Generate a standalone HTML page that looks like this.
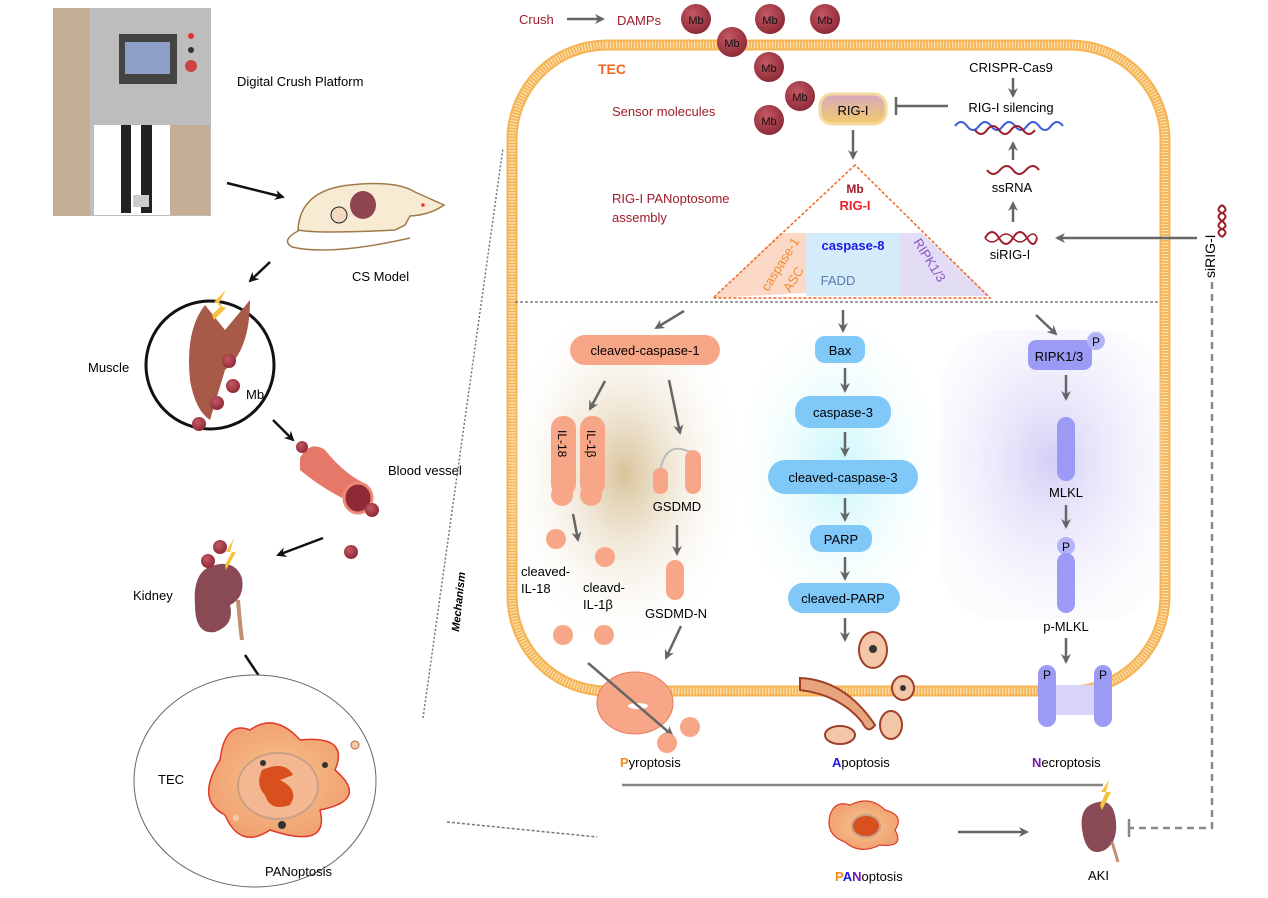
<!DOCTYPE html>
<html><head><meta charset="utf-8"><style>
html,body{margin:0;padding:0;background:#fff;}
svg{display:block;font-family:"Liberation Sans",Arial,sans-serif;}
</style></head><body>
<svg width="1268" height="898" viewBox="0 0 1268 898" xmlns="http://www.w3.org/2000/svg">
<defs>
<marker id="ag" viewBox="0 0 10 10" refX="8" refY="5" markerWidth="4" markerHeight="4" orient="auto"><path d="M0,0 L10,5 L0,10 L3,5z" fill="#666"/></marker>
<marker id="ab" viewBox="0 0 10 10" refX="8" refY="5" markerWidth="4" markerHeight="4" orient="auto"><path d="M0,0 L10,5 L0,10 L3,5z" fill="#111"/></marker>
<radialGradient id="mb" cx="40%" cy="35%" r="65%"><stop offset="0" stop-color="#c45a66"/><stop offset="1" stop-color="#8e2a36"/></radialGradient>
<radialGradient id="gPy" cx="50%" cy="45%" r="55%"><stop offset="0" stop-color="#d9c39a"/><stop offset="1" stop-color="#fff" stop-opacity="0"/></radialGradient>
<radialGradient id="gAp" cx="50%" cy="45%" r="55%"><stop offset="0" stop-color="#c8f6fb"/><stop offset="1" stop-color="#fff" stop-opacity="0"/></radialGradient>
<radialGradient id="gNe" cx="50%" cy="45%" r="55%"><stop offset="0" stop-color="#d4cff6"/><stop offset="1" stop-color="#efedfb" stop-opacity="0.2"/></radialGradient>
<linearGradient id="rig" x1="0" y1="0" x2="0" y2="1"><stop offset="0" stop-color="#d6a8c0"/><stop offset="1" stop-color="#f2cc6a"/></linearGradient>
<radialGradient id="cell" cx="50%" cy="50%" r="55%"><stop offset="0" stop-color="#f7c48c"/><stop offset="1" stop-color="#f0a070"/></radialGradient>
</defs>

<!-- ===== LEFT PANEL ===== -->
<rect x="53" y="8" width="158" height="208" fill="#bdbdbd"/>
<rect x="53" y="8" width="37" height="208" fill="#c4ae96"/>
<rect x="94" y="125" width="76" height="90" fill="#fff"/>
<rect x="170" y="125" width="40" height="90" fill="#c4ae96"/>
<rect x="121" y="125" width="10" height="88" fill="#222"/>
<rect x="141" y="125" width="11" height="88" fill="#222"/>
<rect x="133" y="195" width="16" height="12" fill="#ccc"/>
<rect x="119" y="34" width="58" height="50" fill="#444"/>
<rect x="125" y="42" width="45" height="32" fill="#8fa0c8"/>
<circle cx="191" cy="36" r="3" fill="#d33"/><circle cx="191" cy="50" r="3" fill="#333"/><circle cx="191" cy="66" r="6" fill="#c44"/>
<text x="237" y="86" font-size="13">Digital Crush Platform</text>
<line x1="227" y1="183" x2="283" y2="197" stroke="#111" stroke-width="2.5" marker-end="url(#ab)"/>
<!-- mouse -->
<path d="M298,230 Q300,190 350,185 Q395,180 415,192 L444,205 Q430,215 410,216 L405,225 L395,230 Q360,232 330,232 Q310,232 298,230z" fill="#f7ebd4" stroke="#a07a48" stroke-width="1.5"/>
<path d="M300,230 Q280,240 292,247 Q330,256 410,238" fill="none" stroke="#a07a48" stroke-width="1.5"/>
<ellipse cx="363" cy="205" rx="13" ry="14" fill="#8e4550"/>
<circle cx="339" cy="215" r="8" fill="#f2d9c2" stroke="#222" stroke-width="1"/>
<circle cx="423" cy="205" r="1.8" fill="#e33"/>
<text x="352" y="281" font-size="13">CS Model</text>
<line x1="270" y1="262" x2="250" y2="281" stroke="#111" stroke-width="2.5" marker-end="url(#ab)"/>
<!-- muscle circle -->
<circle cx="210" cy="365" r="64" fill="#fff" stroke="#111" stroke-width="3"/>
<path d="M190,380 Q185,330 205,305 L225,330 L250,300 Q250,350 225,370 L210,420 Q195,410 190,380z" fill="#a85a48"/>
<path d="M212,315 L222,305 L214,302 L226,290 L218,305 L226,308 L214,320z" fill="#f6c23a"/>
<circle cx="233" cy="386" r="7" fill="url(#mb)"/><circle cx="229" cy="361" r="7" fill="url(#mb)"/><circle cx="217" cy="403" r="7" fill="url(#mb)"/><circle cx="199" cy="424" r="7" fill="url(#mb)"/>
<text x="88" y="372" font-size="13">Muscle</text>
<text x="246" y="399" font-size="13">Mb</text>
<line x1="273" y1="420" x2="293" y2="440" stroke="#111" stroke-width="2.5" marker-end="url(#ab)"/>
<!-- blood vessel -->
<path d="M300,458 Q310,440 325,450 Q345,475 368,485 L365,508 Q330,495 300,470z" fill="#e6786a"/>
<ellipse cx="358" cy="498" rx="14" ry="15" fill="#8e2a36" stroke="#f08878" stroke-width="3"/>
<circle cx="302" cy="447" r="6" fill="url(#mb)"/><circle cx="372" cy="510" r="7" fill="url(#mb)"/><circle cx="351" cy="552" r="7" fill="url(#mb)"/>
<text x="388" y="475" font-size="13">Blood vessel</text>
<line x1="323" y1="538" x2="278" y2="555" stroke="#111" stroke-width="2.5" marker-end="url(#ab)"/>
<!-- kidney -->
<path d="M215,565 Q235,560 242,578 Q245,598 230,605 Q235,625 215,632 Q195,635 195,605 Q192,570 215,565z" fill="#8a4a55"/>
<path d="M238,600 Q240,625 242,640" stroke="#c09070" stroke-width="4" fill="none"/>
<circle cx="220" cy="547" r="7" fill="url(#mb)"/><circle cx="208" cy="561" r="7" fill="url(#mb)"/>
<path d="M225,565 L232,552 L226,552 L234,538 L230,552 L236,552 L226,570z" fill="#f6c23a"/>
<text x="133" y="600" font-size="13">Kidney</text>
<line x1="245" y1="655" x2="265" y2="685" stroke="#111" stroke-width="2.5" marker-end="url(#ab)"/>
<!-- TEC ellipse -->
<ellipse cx="255" cy="781" rx="121" ry="106" fill="#fff" stroke="#666" stroke-width="1"/>
<path d="M220,760 Q225,720 250,730 Q275,712 300,740 Q350,735 335,770 Q370,800 320,810 Q330,850 270,830 Q240,850 225,815 Q195,800 220,760z" fill="url(#cell)" stroke="#e03a2a" stroke-width="1.5"/>
<ellipse cx="278" cy="786" rx="40" ry="33" fill="#f3b892" stroke="#c8a088" stroke-width="2"/>
<path d="M262,770 Q285,760 293,775 L280,780 Q300,790 290,805 Q270,812 265,795 Q255,785 262,770z" fill="#d8501e"/>
<circle cx="263" cy="763" r="3" fill="#333"/><circle cx="325" cy="765" r="3" fill="#333"/><circle cx="282" cy="825" r="4" fill="#333"/>
<circle cx="355" cy="745" r="4" fill="#f3cba8" stroke="#c06040"/><circle cx="236" cy="818" r="3" fill="#f3cba8"/>
<text x="158" y="784" font-size="13">TEC</text>
<text x="265" y="876" font-size="13">PANoptosis</text>
<line x1="423" y1="718" x2="503" y2="148" stroke="#777" stroke-width="1.5" stroke-dasharray="2,2"/>
<line x1="447" y1="822" x2="597" y2="837" stroke="#777" stroke-width="1.5" stroke-dasharray="3,2"/>
<text x="0" y="0" font-size="11" font-weight="bold" font-style="italic" transform="translate(459,632) rotate(-84)">Mechanism</text>

<!-- ===== CELL ===== -->
<rect x="512" y="45" width="653" height="646" rx="95" fill="none" stroke="#f6b454" stroke-width="11"/>
<rect x="512" y="45" width="653" height="646" rx="95" fill="none" stroke="#fbe3b8" stroke-width="7" stroke-dasharray="1.2,1.8"/>

<rect x="512" y="325" width="225" height="330" fill="url(#gPy)"/>
<rect x="732" y="325" width="215" height="320" fill="url(#gAp)"/>
<rect x="940" y="330" width="222" height="290" rx="60" fill="url(#gNe)"/>

<text x="519" y="24" font-size="13" fill="#9e1c2a">Crush</text>
<line x1="567" y1="19" x2="603" y2="19" stroke="#666" stroke-width="2.5" marker-end="url(#ag)"/>
<text x="617" y="25" font-size="13" fill="#9e1c2a">DAMPs</text>
<g font-size="11" text-anchor="middle" fill="#111">
<circle cx="696" cy="19" r="15" fill="url(#mb)"/><text x="696" y="24">Mb</text>
<circle cx="770" cy="19" r="15" fill="url(#mb)"/><text x="770" y="24">Mb</text>
<circle cx="825" cy="19" r="15" fill="url(#mb)"/><text x="825" y="24">Mb</text>
<circle cx="732" cy="42" r="15" fill="url(#mb)"/><text x="732" y="47">Mb</text>
<circle cx="769" cy="67" r="15" fill="url(#mb)"/><text x="769" y="72">Mb</text>
<circle cx="800" cy="96" r="15" fill="url(#mb)"/><text x="800" y="101">Mb</text>
<circle cx="769" cy="120" r="15" fill="url(#mb)"/><text x="769" y="125">Mb</text>
</g>
<text x="598" y="74" font-size="14" font-weight="bold" fill="#f26522">TEC</text>
<text x="612" y="116" font-size="13" fill="#9e1c2a">Sensor molecules</text>
<rect x="820" y="94" width="66" height="30" rx="12" fill="url(#rig)" stroke="#f7d9a0" stroke-width="3"/>
<text x="853" y="115" font-size="13" text-anchor="middle">RIG-I</text>
<line x1="948" y1="106" x2="897" y2="106" stroke="#666" stroke-width="2.5"/>
<line x1="896" y1="97" x2="896" y2="115" stroke="#666" stroke-width="2.5"/>
<line x1="853" y1="130" x2="853" y2="158" stroke="#666" stroke-width="2.5" marker-end="url(#ag)"/>

<text x="1011" y="72" font-size="13" text-anchor="middle">CRISPR-Cas9</text>
<line x1="1013" y1="78" x2="1013" y2="96" stroke="#666" stroke-width="2.5" marker-end="url(#ag)"/>
<text x="1011" y="112" font-size="13" text-anchor="middle">RIG-I silencing</text>
<path d="M955,126 q6,-8 12,0 t12,0 t12,0 t12,0 t12,0 t12,0 t12,0 t12,0 t12,0" fill="none" stroke="#3a5bd9" stroke-width="2"/>
<path d="M975,130 q6,8 12,0 t12,0 t12,0 t12,0 t12,0" fill="none" stroke="#9e1c2a" stroke-width="2"/>
<line x1="1013" y1="160" x2="1013" y2="143" stroke="#666" stroke-width="2.5" marker-end="url(#ag)"/>
<path d="M987,170 q6,8 13,0 t13,0 t13,0 t13,0" fill="none" stroke="#9e1c2a" stroke-width="2"/>
<text x="1012" y="192" font-size="13" text-anchor="middle">ssRNA</text>
<line x1="1013" y1="222" x2="1013" y2="203" stroke="#666" stroke-width="2.5" marker-end="url(#ag)"/>
<path d="M985,238 q7,-12 14,0 t14,0 t14,0 t10,0" fill="none" stroke="#9e1c2a" stroke-width="2"/>
<path d="M985,238 q7,8 14,0 t14,0 t14,0 t10,0" fill="none" stroke="#9e1c2a" stroke-width="1.5"/>
<text x="1010" y="259" font-size="13" text-anchor="middle">siRIG-I</text>
<line x1="1197" y1="238" x2="1057" y2="238" stroke="#666" stroke-width="2.5" marker-end="url(#ag)"/>
<text x="0" y="0" font-size="14" transform="translate(1215,278) rotate(-90)">siRIG-I</text>
<path d="M1222,205 q-7,5 0,8 t0,8 t0,8 t0,8" fill="none" stroke="#9e1c2a" stroke-width="2"/>
<path d="M1222,205 q7,5 0,8 t0,8 t0,8 t0,8" fill="none" stroke="#9e1c2a" stroke-width="2"/>
<path d="M1212,282 L1212,828 L1130,828" fill="none" stroke="#888" stroke-width="2.5" stroke-dasharray="7,5"/>
<line x1="1129" y1="819" x2="1129" y2="837" stroke="#888" stroke-width="2.5"/>

<text x="612" y="203" font-size="13" fill="#9e1c2a">RIG-I PANoptosome</text>
<text x="612" y="222" font-size="13" fill="#9e1c2a">assembly</text>
<polygon points="713,298 806,293 806,233 780,233" fill="#fbd9c6"/>
<rect x="806" y="233" width="94" height="63" fill="#d4ecfa"/>
<polygon points="900,233 900,296 990,296 922,233" fill="#e3dcf5"/>
<polygon points="855,165 713,298 990,298" fill="none" stroke="#f26522" stroke-width="1.5" stroke-dasharray="3,2"/>
<text x="855" y="193" font-size="12" font-weight="bold" fill="#9e1c2a" text-anchor="middle">Mb</text>
<text x="855" y="210" font-size="13" font-weight="bold" fill="#e8242a" text-anchor="middle">RIG-I</text>
<text x="853" y="250" font-size="13" font-weight="bold" fill="#1a1ae6" text-anchor="middle">caspase-8</text>
<text x="838" y="285" font-size="13" fill="#5a7ab0" text-anchor="middle">FADD</text>
<text x="0" y="0" font-size="13" fill="#f28a30" transform="translate(768,292) rotate(-58)">caspase-1</text>
<text x="0" y="0" font-size="13" fill="#f28a30" transform="translate(790,293) rotate(-58)">ASC</text>
<text x="0" y="0" font-size="13" fill="#8a55c0" transform="translate(913,242) rotate(58)">RIPK1/3</text>

<line x1="515" y1="302" x2="1160" y2="302" stroke="#666" stroke-width="1.2" stroke-dasharray="3,2"/>

<!-- Pyroptosis -->
<line x1="684" y1="311" x2="656" y2="328" stroke="#666" stroke-width="2.5" marker-end="url(#ag)"/>
<rect x="570" y="335" width="150" height="30" rx="15" fill="#f8a688"/>
<text x="645" y="355" font-size="13" text-anchor="middle">cleaved-caspase-1</text>
<line x1="605" y1="381" x2="590" y2="409" stroke="#666" stroke-width="2.5" marker-end="url(#ag)"/>
<line x1="669" y1="380" x2="680" y2="433" stroke="#666" stroke-width="2.5" marker-end="url(#ag)"/>
<rect x="551" y="416" width="25" height="80" rx="12" fill="#f8a688"/><circle cx="562" cy="495" r="11" fill="#f8a688"/>
<rect x="580" y="416" width="25" height="80" rx="12" fill="#f8a688"/><circle cx="591" cy="495" r="11" fill="#f8a688"/>
<text x="0" y="0" font-size="12" transform="translate(558,430) rotate(90)">IL-18</text>
<text x="0" y="0" font-size="12" transform="translate(587,430) rotate(90)">IL-1β</text>
<path d="M660,472 Q665,440 690,452" fill="none" stroke="#bbb" stroke-width="2"/>
<rect x="653" y="468" width="15" height="26" rx="7" fill="#f8a688"/>
<rect x="685" y="450" width="16" height="44" rx="8" fill="#f8a688"/>
<text x="677" y="511" font-size="13" text-anchor="middle">GSDMD</text>
<line x1="573" y1="514" x2="578" y2="540" stroke="#666" stroke-width="2.5" marker-end="url(#ag)"/>
<line x1="677" y1="525" x2="677" y2="554" stroke="#666" stroke-width="2.5" marker-end="url(#ag)"/>
<circle cx="556" cy="539" r="10" fill="#f8a688"/><circle cx="605" cy="557" r="10" fill="#f8a688"/>
<text x="521" y="576" font-size="13">cleaved-</text><text x="521" y="593" font-size="13">IL-18</text>
<text x="583" y="592" font-size="13">cleavd-</text><text x="583" y="609" font-size="13">IL-1β</text>
<rect x="666" y="560" width="18" height="40" rx="9" fill="#f8a688"/>
<text x="676" y="618" font-size="13" text-anchor="middle">GSDMD-N</text>
<circle cx="563" cy="635" r="10" fill="#f8a688"/><circle cx="604" cy="635" r="10" fill="#f8a688"/>
<line x1="681" y1="626" x2="666" y2="658" stroke="#666" stroke-width="2.5" marker-end="url(#ag)"/>
<ellipse cx="635" cy="703" rx="38" ry="31" fill="#f8a688" stroke="#e67a62" stroke-width="1"/>
<ellipse cx="638" cy="706" rx="10" ry="3" fill="#fff"/>
<line x1="588" y1="663" x2="672" y2="735" stroke="#666" stroke-width="2.5" marker-end="url(#ag)"/>
<circle cx="690" cy="727" r="10" fill="#f8a688"/><circle cx="667" cy="743" r="10" fill="#f8a688"/>
<text x="620" y="767" font-size="13"><tspan fill="#f28a1a" font-weight="bold">P</tspan>yroptosis</text>

<!-- Apoptosis -->
<line x1="843" y1="310" x2="843" y2="331" stroke="#666" stroke-width="2.5" marker-end="url(#ag)"/>
<rect x="815" y="336" width="50" height="27" rx="10" fill="#7fc8f8"/>
<text x="840" y="355" font-size="13" text-anchor="middle">Bax</text>
<line x1="845" y1="368" x2="845" y2="391" stroke="#666" stroke-width="2.5" marker-end="url(#ag)"/>
<rect x="795" y="396" width="96" height="32" rx="15" fill="#7fc8f8"/>
<text x="843" y="417" font-size="13" text-anchor="middle">caspase-3</text>
<line x1="845" y1="432" x2="845" y2="455" stroke="#666" stroke-width="2.5" marker-end="url(#ag)"/>
<rect x="768" y="460" width="150" height="34" rx="17" fill="#7fc8f8"/>
<text x="843" y="482" font-size="13" text-anchor="middle">cleaved-caspase-3</text>
<line x1="845" y1="498" x2="845" y2="520" stroke="#666" stroke-width="2.5" marker-end="url(#ag)"/>
<rect x="810" y="525" width="62" height="27" rx="12" fill="#7fc8f8"/>
<text x="841" y="544" font-size="13" text-anchor="middle">PARP</text>
<line x1="845" y1="557" x2="845" y2="579" stroke="#666" stroke-width="2.5" marker-end="url(#ag)"/>
<rect x="788" y="583" width="112" height="30" rx="15" fill="#7fc8f8"/>
<text x="843" y="603" font-size="13" text-anchor="middle">cleaved-PARP</text>
<line x1="845" y1="618" x2="845" y2="640" stroke="#666" stroke-width="2.5" marker-end="url(#ag)"/>
<ellipse cx="873" cy="650" rx="14" ry="18" fill="#f3c6a8" stroke="#a0402a" stroke-width="2"/><circle cx="873" cy="649" r="4" fill="#333"/>
<ellipse cx="903" cy="688" rx="11" ry="12" fill="#f3c6a8" stroke="#a0402a" stroke-width="2"/><circle cx="903" cy="688" r="3" fill="#333"/>
<path d="M800,678 Q845,680 875,725 Q868,735 862,722 Q840,695 800,690z" fill="#e8a47c" stroke="#a0402a" stroke-width="2"/>
<ellipse cx="891" cy="725" rx="11" ry="14" fill="#f3c6a8" stroke="#a0402a" stroke-width="2"/>
<ellipse cx="840" cy="735" rx="15" ry="9" fill="#f3c6a8" stroke="#a0402a" stroke-width="2"/>
<text x="832" y="767" font-size="13"><tspan fill="#1a1ae6" font-weight="bold">A</tspan>poptosis</text>

<!-- Necroptosis -->
<line x1="1036" y1="315" x2="1056" y2="334" stroke="#666" stroke-width="2.5" marker-end="url(#ag)"/>
<rect x="1028" y="340" width="64" height="30" rx="8" fill="#9b9bf5"/>
<circle cx="1096" cy="341" r="9" fill="#b4b4f8"/>
<text x="1096" y="346" font-size="12" text-anchor="middle">P</text>
<text x="1059" y="361" font-size="13" text-anchor="middle">RIPK1/3</text>
<line x1="1066" y1="375" x2="1066" y2="399" stroke="#666" stroke-width="2.5" marker-end="url(#ag)"/>
<rect x="1057" y="417" width="18" height="64" rx="9" fill="#9b9bf5"/>
<text x="1066" y="497" font-size="13" text-anchor="middle">MLKL</text>
<line x1="1066" y1="505" x2="1066" y2="527" stroke="#666" stroke-width="2.5" marker-end="url(#ag)"/>
<circle cx="1066" cy="546" r="9" fill="#b4b4f8"/><text x="1066" y="551" font-size="12" text-anchor="middle">P</text>
<rect x="1057" y="553" width="18" height="60" rx="9" fill="#9b9bf5"/>
<text x="1066" y="631" font-size="13" text-anchor="middle">p-MLKL</text>
<line x1="1066" y1="638" x2="1066" y2="662" stroke="#666" stroke-width="2.5" marker-end="url(#ag)"/>
<rect x="1055" y="685" width="40" height="30" fill="#d8d4f8"/>
<rect x="1038" y="665" width="18" height="62" rx="9" fill="#9b9bf5"/>
<rect x="1094" y="665" width="18" height="62" rx="9" fill="#9b9bf5"/>
<text x="1047" y="679" font-size="12" text-anchor="middle">P</text>
<text x="1103" y="679" font-size="12" text-anchor="middle">P</text>
<text x="1032" y="767" font-size="13"><tspan fill="#7a1ab0" font-weight="bold">N</tspan>ecroptosis</text>

<!-- bottom -->
<line x1="622" y1="785" x2="1103" y2="785" stroke="#888" stroke-width="2.5"/>
<path d="M830,815 Q835,800 850,805 Q870,795 885,810 Q905,815 895,830 Q905,848 880,845 Q860,855 845,842 Q825,835 830,815z" fill="url(#cell)" stroke="#e03a2a" stroke-width="1.2"/>
<ellipse cx="866" cy="826" rx="14" ry="11" fill="#d8501e" stroke="#c8a088" stroke-width="2"/>
<text x="835" y="881" font-size="13"><tspan fill="#f28a1a" font-weight="bold">P</tspan><tspan fill="#1a1ae6" font-weight="bold">A</tspan><tspan fill="#7a1ab0" font-weight="bold">N</tspan>optosis</text>
<line x1="958" y1="832" x2="1027" y2="832" stroke="#666" stroke-width="2.5" marker-end="url(#ag)"/>
<path d="M1090,805 Q1110,795 1115,815 Q1120,840 1105,850 Q1088,858 1083,835 Q1078,812 1090,805z" fill="#8a4a55"/>
<path d="M1112,842 Q1116,855 1118,862" stroke="#c09070" stroke-width="3" fill="none"/>
<path d="M1100,805 L1106,792 L1101,792 L1109,780 L1106,792 L1111,792 L1102,810z" fill="#f6c23a"/>
<text x="1088" y="880" font-size="13">AKI</text>
</svg>
</body></html>
